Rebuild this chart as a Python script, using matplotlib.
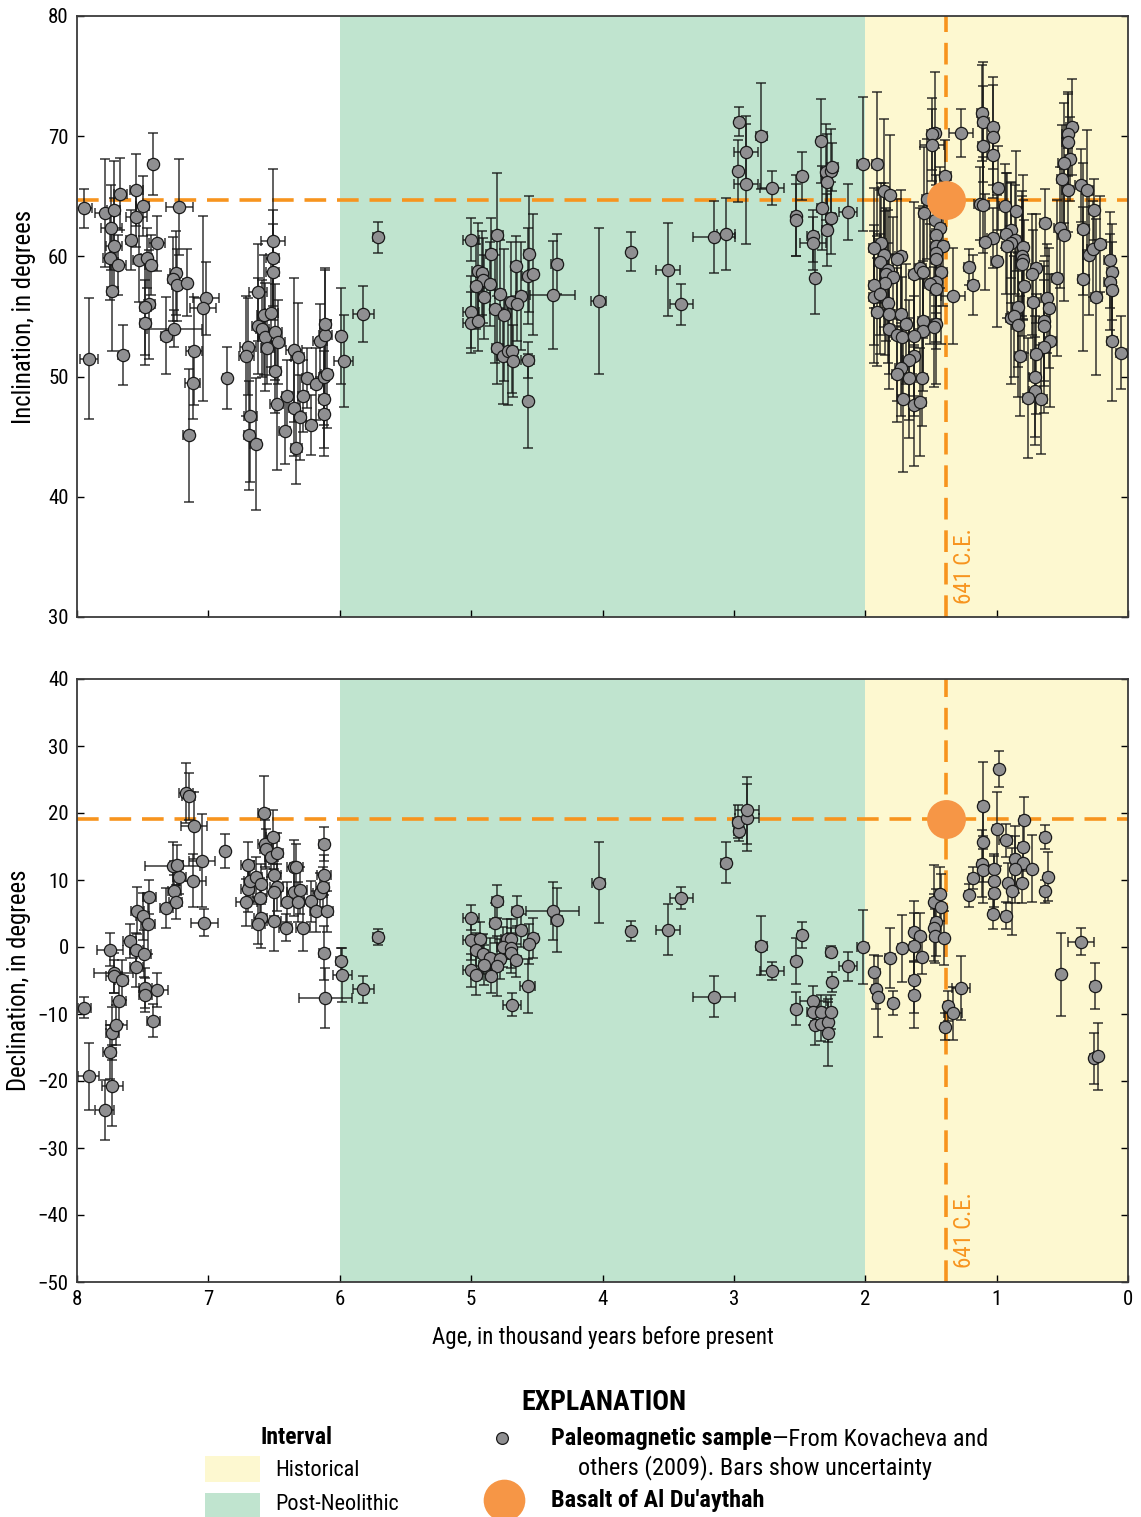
import matplotlib
matplotlib.use("Agg")
import matplotlib.pyplot as plt
import matplotlib.font_manager as fm
from matplotlib.patches import Rectangle
from matplotlib.lines import Line2D

_available = {f.name for f in fm.fontManager.ttflist}
_cands = ['Roboto Condensed', 'PT Sans Narrow', 'Archivo Narrow', 'Fira Sans Condensed',
          'Liberation Sans Narrow', 'DejaVu Sans']
FONT = next(c for c in _cands if c in _available)
plt.rcParams['font.family'] = [FONT, 'DejaVu Sans']

# ---------------- data ----------------
# Inclination samples (age in ka BP, inclination deg, inclination uncertainty, age uncertainty)
inc_age = [7.945, 7.91, 7.79, 7.74, 7.72, 7.72, 7.75, 7.73, 7.67, 7.69, 7.65, 7.55, 7.50, 7.55, 7.59, 7.53,
           7.47, 7.44, 7.42, 7.39, 7.45, 7.48, 7.48, 7.32, 7.26, 7.22, 7.25, 7.27, 7.24, 7.16, 7.11, 7.12,
           7.15, 7.02, 7.04, 6.86, 6.70, 6.71, 6.68, 6.69, 6.64, 6.62, 6.51, 6.51, 6.51, 6.58, 6.52, 6.62,
           6.59, 6.57, 6.49, 6.47, 6.55, 6.49, 6.48, 6.40, 6.35, 6.28, 6.30, 6.42, 6.33, 6.22, 6.35, 6.32,
           6.25, 6.18, 6.12, 6.10, 6.12, 6.12, 6.15, 6.11, 6.11, 5.99, 5.97, 5.71, 5.82,
           5.00, 4.80, 4.85, 4.56, 4.35, 4.66, 4.95, 4.92, 4.91, 4.86, 4.96, 4.57, 4.53, 4.90, 4.78, 4.62,
           4.70, 4.65, 4.38, 5.00, 4.82, 4.75, 5.00, 4.95, 4.80, 4.76, 4.72, 4.69, 4.68, 4.57, 4.57, 4.03,
           3.78, 3.50, 3.40, 3.15, 3.06, 2.96, 2.97, 2.91, 2.91, 2.79, 2.71, 2.53, 2.53, 2.48, 2.40, 2.40,
           2.38, 2.34, 2.30, 2.26, 2.25, 2.29, 2.33, 2.26, 2.29, 2.13, 2.02, 1.91,
           1.47, 1.49, 1.49, 1.27, 1.11, 1.10, 1.03, 1.03, 1.10, 1.03, 0.99, 0.43, 0.46, 0.46, 0.44, 0.49,
           0.50, 0.46, 0.36, 0.31, 1.39, 1.86, 1.81, 1.53, 1.13, 1.10, 0.94, 0.85, 1.55, 0.63, 0.26, 1.47,
           1.43, 1.46, 0.52, 0.49, 0.34, 0.89, 0.93, 0.86, 0.89, 0.92, 1.03, 1.09, 0.80, 1.00, 0.81, 0.80,
           0.81, 0.70, 0.73, 0.79, 0.72, 0.62, 0.60, 0.64, 0.64, 0.59, 0.64, 0.70, 0.82, 0.71, 0.71, 0.76,
           0.66, 0.84, 0.89, 0.87, 0.84, 0.54, 0.34, 0.24, 0.14, 0.12, 0.14, 0.12, 0.12, 0.05, 0.30, 0.27,
           0.21, 1.21, 1.18, 1.33, 1.88, 1.93, 1.86, 1.89, 1.83, 1.84, 1.79, 1.85, 1.93, 1.93, 1.89, 1.91,
           1.83, 1.82, 1.82, 1.73, 1.76, 1.73, 1.69, 1.76, 1.72, 1.63, 1.58, 1.56, 1.56, 1.56, 1.63, 1.63,
           1.67, 1.73, 1.76, 1.67, 1.57, 1.71, 1.63, 1.58, 1.46, 1.41, 1.46, 1.46, 1.42, 1.46, 1.51, 1.46,
           1.46, 1.48]
inc_val = [64.0, 51.5, 63.6, 62.4, 63.9, 60.9, 59.9, 57.1, 65.2, 59.3, 51.8, 65.5, 64.2, 63.3, 61.4, 59.7,
           59.9, 59.3, 67.7, 61.1, 56.0, 55.8, 54.5, 53.4, 54.0, 64.1, 58.6, 58.1, 57.6, 57.8, 52.1, 49.5,
           45.1, 56.5, 55.7, 49.9, 52.5, 51.7, 46.7, 45.1, 44.4, 57.0, 61.3, 59.9, 58.7, 55.1, 55.3, 54.2,
           54.0, 53.3, 53.7, 52.9, 52.4, 50.5, 47.7, 48.4, 47.4, 48.4, 46.6, 45.5, 44.1, 46.0, 52.2, 51.6,
           49.9, 49.4, 50.0, 50.2, 48.1, 46.9, 53.0, 53.5, 54.4, 53.4, 51.3, 61.6, 55.2,
           61.4, 61.8, 60.2, 60.2, 59.4, 59.2, 58.8, 58.6, 58.0, 57.7, 57.5, 58.4, 58.5, 56.6, 56.9, 56.7,
           56.2, 56.0, 56.8, 55.4, 55.6, 55.1, 54.5, 54.6, 52.4, 51.7, 52.1, 52.1, 51.3, 51.4, 48.0, 56.3,
           60.4, 58.9, 56.0, 61.6, 61.9, 71.2, 67.1, 68.7, 66.0, 70.0, 65.7, 63.4, 63.0, 66.7, 61.7, 61.1,
           58.2, 69.6, 67.0, 67.1, 67.4, 66.2, 64.0, 63.2, 62.2, 63.7, 67.7, 67.7,
           70.3, 70.2, 69.3, 70.3, 71.9, 71.2, 70.8, 69.9, 69.2, 68.4, 65.7, 70.8, 70.2, 69.5, 68.1, 67.8,
           66.4, 65.5, 65.9, 65.5, 66.7, 65.4, 65.1, 64.8, 64.4, 64.3, 64.2, 63.8, 63.6, 62.8, 63.9, 63.0,
           62.4, 61.8, 62.4, 61.8, 62.3, 62.2, 61.9, 61.4, 61.1, 60.9, 61.5, 61.2, 60.8, 59.6, 60.0, 59.7,
           59.4, 59.0, 58.5, 57.5, 56.2, 56.5, 55.7, 54.6, 54.2, 53.0, 52.5, 51.9, 51.7, 50.0, 48.8, 48.2,
           48.1, 55.8, 54.9, 55.0, 54.3, 58.2, 58.1, 56.6, 59.7, 58.7, 57.9, 57.2, 53.0, 52.0, 60.1, 60.6,
           61.0, 59.1, 57.6, 56.7, 61.1, 60.7, 60.1, 59.5, 58.9, 58.5, 58.3, 57.8, 57.6, 56.6, 56.9, 55.4,
           56.1, 55.2, 54.0, 60.0, 59.8, 55.2, 54.4, 53.5, 53.3, 58.5, 59.0, 58.7, 54.6, 53.8, 53.4, 51.7,
           51.4, 50.7, 50.2, 49.9, 49.9, 48.1, 47.6, 47.9, 60.9, 60.9, 60.3, 59.8, 58.7, 57.9, 57.7, 57.3,
           54.4, 54.1]
inc_err = [1.6, 5.0, 4.5, 3.5, 4.0, 4.0, 3.5, 5.0, 3.0, 2.5, 2.5, 3.0, 2.5, 2.5, 2.5, 3.5,
           2.5, 2.5, 2.6, 2.3, 4.5, 4.0, 3.5, 3.2, 1.5, 4.0, 3.5, 3.5, 3.0, 2.8, 4.5, 3.0,
           5.5, 3.0, 7.7, 2.6, 4.0, 5.0, 5.5, 4.5, 5.5, 4.0, 6.0, 4.0, 4.0, 5.0, 4.5, 4.0,
           4.0, 4.5, 4.0, 3.5, 3.0, 3.5, 5.5, 3.0, 4.0, 3.0, 3.5, 2.8, 3.0, 2.5, 6.0, 4.5,
           2.5, 3.0, 4.0, 4.5, 4.0, 3.5, 3.0, 5.5, 4.5, 4.0, 3.8, 1.3, 2.3,
           1.8, 5.1, 3.0, 4.8, 2.5, 2.5, 4.0, 3.5, 3.5, 3.5, 3.5, 4.0, 5.0, 3.5, 4.5, 4.5,
           5.0, 3.0, 4.5, 3.0, 4.5, 5.5, 2.5, 2.5, 3.0, 4.0, 4.5, 3.5, 3.0, 1.5, 3.9, 6.1,
           1.6, 3.9, 1.7, 3.0, 3.0, 1.2, 2.6, 3.0, 5.0, 4.4, 1.4, 3.4, 3.0, 2.0, 2.2, 2.2,
           3.0, 3.5, 4.0, 3.5, 2.0, 4.0, 3.5, 3.0, 3.0, 2.3, 5.6, 6.0,
           5.0, 3.0, 3.0, 2.0, 4.0, 5.0, 3.5, 5.0, 5.0, 2.5, 3.5, 4.0, 3.5, 4.0, 3.5, 5.0,
           4.5, 3.5, 3.0, 5.0, 3.0, 6.0, 5.0, 5.0, 3.0, 4.0, 3.5, 5.0, 5.5, 2.8, 2.5, 6.0,
           5.0, 5.0, 5.0, 5.5, 5.5, 4.0, 5.0, 4.5, 5.0, 6.0, 2.5, 4.0, 6.0, 5.5, 5.0, 5.0,
           6.0, 4.5, 5.0, 5.5, 6.0, 4.5, 5.0, 5.0, 5.0, 5.5, 5.5, 5.0, 5.0, 5.0, 4.5, 5.0,
           4.5, 5.0, 5.5, 5.0, 6.0, 6.5, 6.0, 6.5, 4.0, 4.0, 4.0, 4.0, 5.0, 3.0, 5.0, 4.0,
           4.0, 1.5, 2.5, 4.0, 5.0, 5.0, 6.0, 6.0, 5.0, 5.5, 5.0, 6.0, 5.0, 5.5, 5.0, 4.5,
           5.0, 5.0, 5.0, 5.5, 5.0, 5.0, 5.0, 5.5, 5.0, 6.0, 5.0, 5.5, 5.0, 5.0, 5.0, 5.0,
           5.0, 4.0, 4.0, 5.0, 4.0, 6.0, 5.0, 4.5, 5.0, 5.0, 5.0, 5.0, 6.0, 5.0, 5.0, 5.0,
           5.0, 5.0]
inc_age_err = [0.06, 0.07, 0.07, 0.08, 0.05, 0.06, 0.05, 0.04, 0.05, 0.06, 0.04, 0.05, 0.05, 0.08, 0.04, 0.04,
               0.04, 0.04, 0.03, 0.06, 0.04, 0.04, 0.04, 0.04, 0.21, 0.10, 0.04, 0.04, 0.04, 0.03, 0.06, 0.06,
               0.04, 0.10, 0.10, 0.03, 0.06, 0.06, 0.05, 0.04, 0.04, 0.07, 0.09, 0.05, 0.05, 0.05, 0.05, 0.05,
               0.05, 0.05, 0.05, 0.05, 0.05, 0.04, 0.05, 0.04, 0.04, 0.04, 0.04, 0.04, 0.04, 0.04, 0.06, 0.05,
               0.04, 0.04, 0.04, 0.04, 0.04, 0.04, 0.05, 0.05, 0.04, 0.03, 0.07, 0.04, 0.08,
               0.06, 0.04, 0.04, 0.04, 0.04, 0.04, 0.04, 0.04, 0.04, 0.04, 0.04, 0.04, 0.04, 0.04, 0.04, 0.04,
               0.04, 0.04, 0.17, 0.06, 0.04, 0.04, 0.06, 0.04, 0.04, 0.04, 0.04, 0.04, 0.04, 0.05, 0.03, 0.06,
               0.03, 0.09, 0.09, 0.16, 0.07, 0.03, 0.03, 0.09, 0.09, 0.04, 0.09, 0.03, 0.03, 0.03, 0.04, 0.10,
               0.03, 0.03, 0.04, 0.04, 0.04, 0.04, 0.04, 0.04, 0.04, 0.07, 0.04, 0.04,
               0.04, 0.04, 0.09, 0.09, 0.04, 0.04, 0.04, 0.04, 0.04, 0.04, 0.04, 0.04, 0.04, 0.04, 0.04, 0.04,
               0.04, 0.04, 0.04, 0.04, 0.04, 0.04, 0.04, 0.04, 0.04, 0.04, 0.04, 0.04, 0.04, 0.04, 0.04, 0.04,
               0.04, 0.04, 0.04, 0.04, 0.04, 0.04, 0.04, 0.04, 0.04, 0.04, 0.04, 0.04, 0.04, 0.04, 0.04, 0.04,
               0.04, 0.04, 0.04, 0.04, 0.04, 0.04, 0.04, 0.04, 0.04, 0.04, 0.04, 0.04, 0.04, 0.04, 0.04, 0.04,
               0.04, 0.04, 0.04, 0.04, 0.04, 0.04, 0.04, 0.04, 0.04, 0.04, 0.04, 0.04, 0.04, 0.04, 0.04, 0.04,
               0.04, 0.04, 0.04, 0.09, 0.04, 0.04, 0.04, 0.04, 0.04, 0.04, 0.04, 0.04, 0.04, 0.04, 0.04, 0.04,
               0.04, 0.04, 0.04, 0.04, 0.04, 0.04, 0.04, 0.04, 0.04, 0.04, 0.04, 0.04, 0.04, 0.04, 0.04, 0.04,
               0.04, 0.04, 0.04, 0.04, 0.04, 0.04, 0.04, 0.04, 0.04, 0.04, 0.04, 0.04, 0.04, 0.04, 0.04, 0.04,
               0.04, 0.04]

# Declination samples
dec_age = [7.945, 7.91, 7.79, 7.73, 7.75, 7.73, 7.70, 7.68, 7.75, 7.72, 7.72, 7.66, 7.60, 7.55, 7.55, 7.49,
           7.48, 7.48, 7.39, 7.42, 7.54, 7.50, 7.46, 7.45, 7.32, 7.26, 7.25, 7.22, 7.27, 7.24, 7.17, 7.15,
           7.11, 7.12, 7.05, 7.03, 6.87, 6.70, 6.70, 6.68, 6.64, 6.60, 6.61, 6.71, 6.60, 6.62, 6.58, 6.57,
           6.56, 6.51, 6.52, 6.48, 6.50, 6.48, 6.50, 6.50, 6.41, 6.35, 6.33, 6.35, 6.30, 6.40, 6.32, 6.28,
           6.22, 6.15, 6.18, 6.10, 6.13, 6.12, 6.12, 6.12, 6.11, 5.99, 5.98, 5.71, 5.82,
           5.00, 4.80, 4.82, 4.65, 4.38, 4.35, 4.62, 5.00, 4.93, 4.96, 4.91, 4.86, 4.78, 4.73, 4.70, 4.76,
           4.70, 4.70, 4.66, 4.53, 4.56, 4.90, 4.80, 5.00, 4.96, 4.85, 4.57, 4.69, 4.03, 3.78, 3.50, 3.40,
           3.15, 3.06, 2.96, 2.97, 2.90, 2.90, 2.79, 2.71, 2.48, 2.53, 2.53, 2.40, 2.40, 2.38, 2.34, 2.34,
           2.28, 2.28, 2.26, 2.25, 2.26, 2.13, 2.02,
           1.93, 1.92, 1.90, 1.81, 1.79, 1.72, 1.63, 1.58, 1.63, 1.57, 1.63, 1.63, 1.48, 1.43, 1.42, 1.46,
           1.48, 1.47, 1.40, 1.27, 1.37, 1.33, 1.39, 1.10, 0.98, 1.00, 0.79, 1.10, 0.93, 0.80, 0.63, 0.86,
           0.80, 0.86, 0.73, 1.11, 1.10, 1.02, 1.02, 1.02, 0.91, 0.88, 0.81, 0.61, 0.63, 1.18, 1.21, 1.03,
           0.93, 0.51, 0.36, 0.25, 0.26, 0.23]
dec_val = [-9.05, -19.3, -24.3, -20.7, -15.7, -12.9, -11.7, -8.0, -0.4, -3.9, -4.4, -4.9, 0.9, -3.0, -0.4, -1.0,
           -6.1, -7.2, -6.4, -11.0, 5.4, 4.6, 3.5, 7.5, 5.8, 8.3, 6.7, 10.4, 12.1, 12.2, 23.0, 22.5,
           18.1, 9.9, 12.9, 3.6, 14.3, 12.2, 8.7, 9.9, 10.5, 9.4, 7.3, 6.7, 4.4, 3.4, 20.0, 15.4,
           14.6, 16.4, 13.5, 14.0, 10.7, 8.9, 8.2, 3.9, 2.9, 11.9, 11.9, 8.2, 8.5, 6.7, 6.7, 2.9,
           6.8, 8.1, 5.3, 5.3, 8.9, 10.7, 15.4, -0.9, -7.6, -2.1, -4.2, 1.5, -6.3,
           4.4, 6.8, 3.6, 5.4, 5.4, 4.0, 2.5, 1.0, 1.2, -0.4, -1.1, -1.6, -1.8, 1.2, 1.2, 0.05,
           -0.1, -0.9, -2.0, 1.4, 0.5, -2.7, -2.8, -3.5, -4.2, -4.4, -5.8, -8.6, 9.6, 2.4, 2.6, 7.3,
           -7.4, 12.6, 17.3, 18.7, 19.3, 20.4, 0.2, -3.6, 1.8, -2.1, -9.2, -8.0, -9.7, -11.6, -9.7, -11.5,
           -11.2, -12.8, -9.7, -5.2, -0.7, -2.9, 0.0,
           -3.7, -6.3, -7.4, -1.6, -8.3, -0.2, 2.3, 1.6, 0.1, -1.5, -4.9, -7.1, 6.7, 7.9, 5.9, 3.7,
           2.9, 1.6, 1.3, -6.1, -8.8, -9.9, -11.9, 21.1, 26.6, 17.6, 18.9, 15.7, 15.9, 14.9, 16.4, 13.1,
           12.5, 11.6, 11.7, 12.4, 11.5, 11.6, 9.9, 8.1, 9.5, 8.3, 9.6, 10.5, 8.3, 10.3, 7.7, 4.9,
           4.7, -4.1, 0.8, -5.8, -16.6, -16.3]
dec_err = [1.6, 5.0, 4.5, 6.0, 4.0, 4.0, 3.0, 3.5, 2.5, 3.0, 2.5, 3.0, 2.5, 3.0, 2.5, 3.5,
           3.0, 2.5, 2.5, 2.5, 3.5, 3.5, 4.5, 2.5, 3.0, 2.5, 2.5, 2.5, 3.5, 3.0, 4.5, 3.5,
           5.0, 4.0, 7.0, 2.0, 2.5, 3.5, 3.5, 3.0, 3.0, 3.0, 3.0, 3.5, 4.5, 3.0, 5.5, 3.5,
           3.0, 4.0, 3.0, 3.0, 3.0, 3.5, 3.5, 4.5, 2.0, 4.0, 3.5, 3.5, 3.5, 3.0, 3.0, 3.5,
           3.0, 3.0, 3.0, 3.0, 3.0, 3.0, 2.5, 4.0, 4.5, 2.0, 4.0, 1.2, 2.0,
           1.8, 2.5, 3.0, 2.2, 4.3, 4.8, 2.5, 3.0, 2.5, 2.5, 3.0, 3.0, 3.0, 3.0, 3.0, 3.0,
           3.0, 3.0, 2.5, 3.0, 3.0, 3.0, 4.5, 2.5, 3.0, 2.5, 4.0, 1.7, 6.0, 1.5, 3.8, 1.6,
           3.0, 3.0, 1.5, 2.5, 5.0, 5.0, 4.4, 1.3, 2.0, 3.4, 2.5, 2.2, 2.0, 3.0, 2.5, 2.5,
           3.0, 5.0, 2.5, 1.5, 0.8, 2.2, 5.5,
           2.5, 3.0, 6.0, 4.5, 1.8, 5.0, 4.5, 3.5, 5.0, 2.5, 5.0, 5.0, 5.5, 4.0, 5.0, 5.0,
           5.0, 4.0, 4.0, 4.8, 2.3, 4.0, 2.0, 6.5, 2.7, 5.5, 3.5, 6.0, 2.5, 3.5, 1.8, 5.0,
           3.0, 5.0, 5.0, 5.0, 5.0, 2.0, 4.0, 3.0, 3.0, 6.5, 3.0, 3.7, 1.7, 1.7, 1.7, 2.2,
           2.0, 6.2, 2.0, 3.4, 3.8, 5.0]
dec_age_err = [0.05, 0.08, 0.07, 0.08, 0.05, 0.05, 0.08, 0.05, 0.10, 0.15, 0.06, 0.05, 0.05, 0.05, 0.05, 0.05,
               0.05, 0.05, 0.08, 0.05, 0.05, 0.05, 0.05, 0.05, 0.05, 0.05, 0.05, 0.05, 0.21, 0.05, 0.05, 0.05,
               0.10, 0.10, 0.10, 0.10, 0.03, 0.05, 0.05, 0.05, 0.05, 0.05, 0.05, 0.08, 0.05, 0.05, 0.04, 0.05,
               0.05, 0.05, 0.05, 0.05, 0.05, 0.05, 0.05, 0.05, 0.05, 0.05, 0.05, 0.05, 0.05, 0.05, 0.05, 0.05,
               0.05, 0.05, 0.05, 0.05, 0.05, 0.05, 0.04, 0.04, 0.20, 0.04, 0.07, 0.04, 0.08,
               0.06, 0.04, 0.04, 0.04, 0.20, 0.04, 0.04, 0.06, 0.04, 0.04, 0.04, 0.04, 0.04, 0.04, 0.04, 0.04,
               0.04, 0.04, 0.04, 0.04, 0.04, 0.04, 0.04, 0.06, 0.04, 0.04, 0.06, 0.07, 0.05, 0.03, 0.09, 0.09,
               0.16, 0.04, 0.04, 0.04, 0.09, 0.09, 0.04, 0.09, 0.03, 0.03, 0.03, 0.10, 0.04, 0.03, 0.03, 0.03,
               0.03, 0.03, 0.03, 0.03, 0.04, 0.07, 0.04,
               0.03, 0.03, 0.03, 0.04, 0.03, 0.03, 0.03, 0.03, 0.03, 0.03, 0.03, 0.03, 0.03, 0.03, 0.03, 0.03,
               0.03, 0.03, 0.03, 0.07, 0.03, 0.07, 0.03, 0.03, 0.03, 0.03, 0.03, 0.03, 0.05, 0.03, 0.03, 0.03,
               0.03, 0.03, 0.03, 0.03, 0.03, 0.03, 0.03, 0.03, 0.03, 0.03, 0.03, 0.03, 0.03, 0.03, 0.03, 0.03,
               0.03, 0.03, 0.10, 0.03, 0.03, 0.03]

# Basalt of Al Du'aythah
basalt_age = 1.385
basalt_inc = 64.7
basalt_dec = 19.1
basalt_label = "641 C.E."

# Interval boundaries (ka)
historical = (0.0, 2.0)
post_neolithic = (2.0, 6.0)

x_ticks = [8, 7, 6, 5, 4, 3, 2, 1, 0]
inc_ticks = [30, 40, 50, 60, 70, 80]
dec_ticks = [-50, -40, -30, -20, -10, 0, 10, 20, 30, 40]

# ---------------- styles ----------------
C_HIST = '#fdf8d0'
C_POST = '#c0e4cf'
C_ORANGE_LINE = '#f7941e'
C_ORANGE_PT = '#f69646'
C_GRAY = '#8f8f91'
C_SPINE = '#3a3a3a'

fig = plt.figure(figsize=(11.41, 15.17), dpi=100)
ax1 = fig.add_axes([77/1141, 1-617/1517, (1128-77)/1141, (617-16)/1517])
ax2 = fig.add_axes([77/1141, 1-1282/1517, (1128-77)/1141, (1282-679)/1517])


def style_axes(ax, ylim, yticks, show_x):
    ax.set_xlim(8, 0)
    ax.set_ylim(*ylim)
    ax.axvspan(*historical, color=C_HIST, lw=0, zorder=0)
    ax.axvspan(*post_neolithic, color=C_POST, lw=0, zorder=0)
    ax.set_xticks(x_ticks)
    ax.set_yticks(yticks)
    ax.tick_params(direction='in', length=5, width=1.0, colors='black', labelsize=15,
                   top=False, right=True, left=True, bottom=True, pad=6)
    if not show_x:
        ax.tick_params(labelbottom=False)
    for s in ax.spines.values():
        s.set_color(C_SPINE)
        s.set_linewidth(1.3)


def draw_samples(ax, age, val, err, age_err):
    ax.errorbar(age, val, yerr=err, xerr=age_err, fmt='none', ecolor='#161616',
                elinewidth=1.2, capsize=3.5, capthick=1.2, alpha=0.8, zorder=2)
    ax.plot(age, val, 'o', ms=8.8, mfc=C_GRAY, mec='#1a1a1a', mew=0.9, ls='none', zorder=3)


style_axes(ax1, (30, 80), inc_ticks, False)
style_axes(ax2, (-50, 40), dec_ticks, True)

ax1.axhline(basalt_inc, color=C_ORANGE_LINE, lw=2.6, dashes=(6, 3), zorder=1)
ax1.axvline(basalt_age, color=C_ORANGE_LINE, lw=2.6, dashes=(6, 3), zorder=1)
ax2.axhline(basalt_dec, color=C_ORANGE_LINE, lw=2.6, dashes=(6, 3), zorder=1)
ax2.axvline(basalt_age, color=C_ORANGE_LINE, lw=2.6, dashes=(6, 3), zorder=1)

draw_samples(ax1, inc_age, inc_val, inc_err, inc_age_err)
draw_samples(ax2, dec_age, dec_val, dec_err, dec_age_err)

ax1.plot([basalt_age], [basalt_inc], 'o', ms=28, color=C_ORANGE_PT, mec='none', zorder=5)
ax2.plot([basalt_age], [basalt_dec], 'o', ms=28, color=C_ORANGE_PT, mec='none', zorder=5)

ax1.text(basalt_age - 0.05, 31.1, basalt_label, rotation=90, color=C_ORANGE_LINE,
         fontsize=16.5, ha='left', va='bottom', zorder=6)
ax2.text(basalt_age - 0.05, -47.9, basalt_label, rotation=90, color=C_ORANGE_LINE,
         fontsize=16.5, ha='left', va='bottom', zorder=6)

ax1.set_ylabel('Inclination, in degrees', fontsize=17.8, labelpad=9)
ax2.set_ylabel('Declination, in degrees', fontsize=17.8, labelpad=5)
ax2.set_xlabel('Age, in thousand years before present', fontsize=16.5, labelpad=12)

# ---------------- explanation ----------------
def fy(py):
    return 1 - py / 1517


def fx(px):
    return px / 1141


fig.text(fx(604), fy(1403), 'EXPLANATION', fontsize=20, fontweight='bold', ha='center', va='center')
fig.text(fx(261), fy(1438), 'Interval', fontsize=17, fontweight='bold', ha='left', va='center')
fig.patches.append(Rectangle((fx(205), fy(1482)), fx(55), 26/1517, transform=fig.transFigure,
                             facecolor=C_HIST, edgecolor='none'))
fig.patches.append(Rectangle((fx(205), fy(1517)), fx(55), 24/1517, transform=fig.transFigure,
                             facecolor=C_POST, edgecolor='none'))
fig.text(fx(275), fy(1471), 'Historical', fontsize=16, ha='left', va='center')
fig.text(fx(275), fy(1504), 'Post-Neolithic', fontsize=16, ha='left', va='center')

fig.add_artist(Line2D([fx(502)], [fy(1438)], marker='o', ms=8.5, mfc=C_GRAY, mec='#1a1a1a', mew=0.9,
                      transform=fig.transFigure))
fig.add_artist(Line2D([fx(504)], [fy(1500)], marker='o', ms=30, color=C_ORANGE_PT, mec='none',
                      transform=fig.transFigure))

t_bold = fig.text(fx(551), fy(1439), 'Paleomagnetic sample', fontsize=17.5, fontweight='bold',
                  ha='left', va='center')
fig.canvas.draw()
bb = t_bold.get_window_extent()
x_after = bb.x1 / fig.bbox.width
fig.text(x_after, fy(1439), '\u2014From Kovacheva and', fontsize=17.5, ha='left', va='center')
fig.text(fx(578), fy(1468), 'others (2009). Bars show uncertainty', fontsize=17.5, ha='left', va='center')
fig.text(fx(551), fy(1501), "Basalt of Al Du'aythah", fontsize=17.5, fontweight='bold',
         ha='left', va='center')

fig.savefig('out.png', dpi=100)
